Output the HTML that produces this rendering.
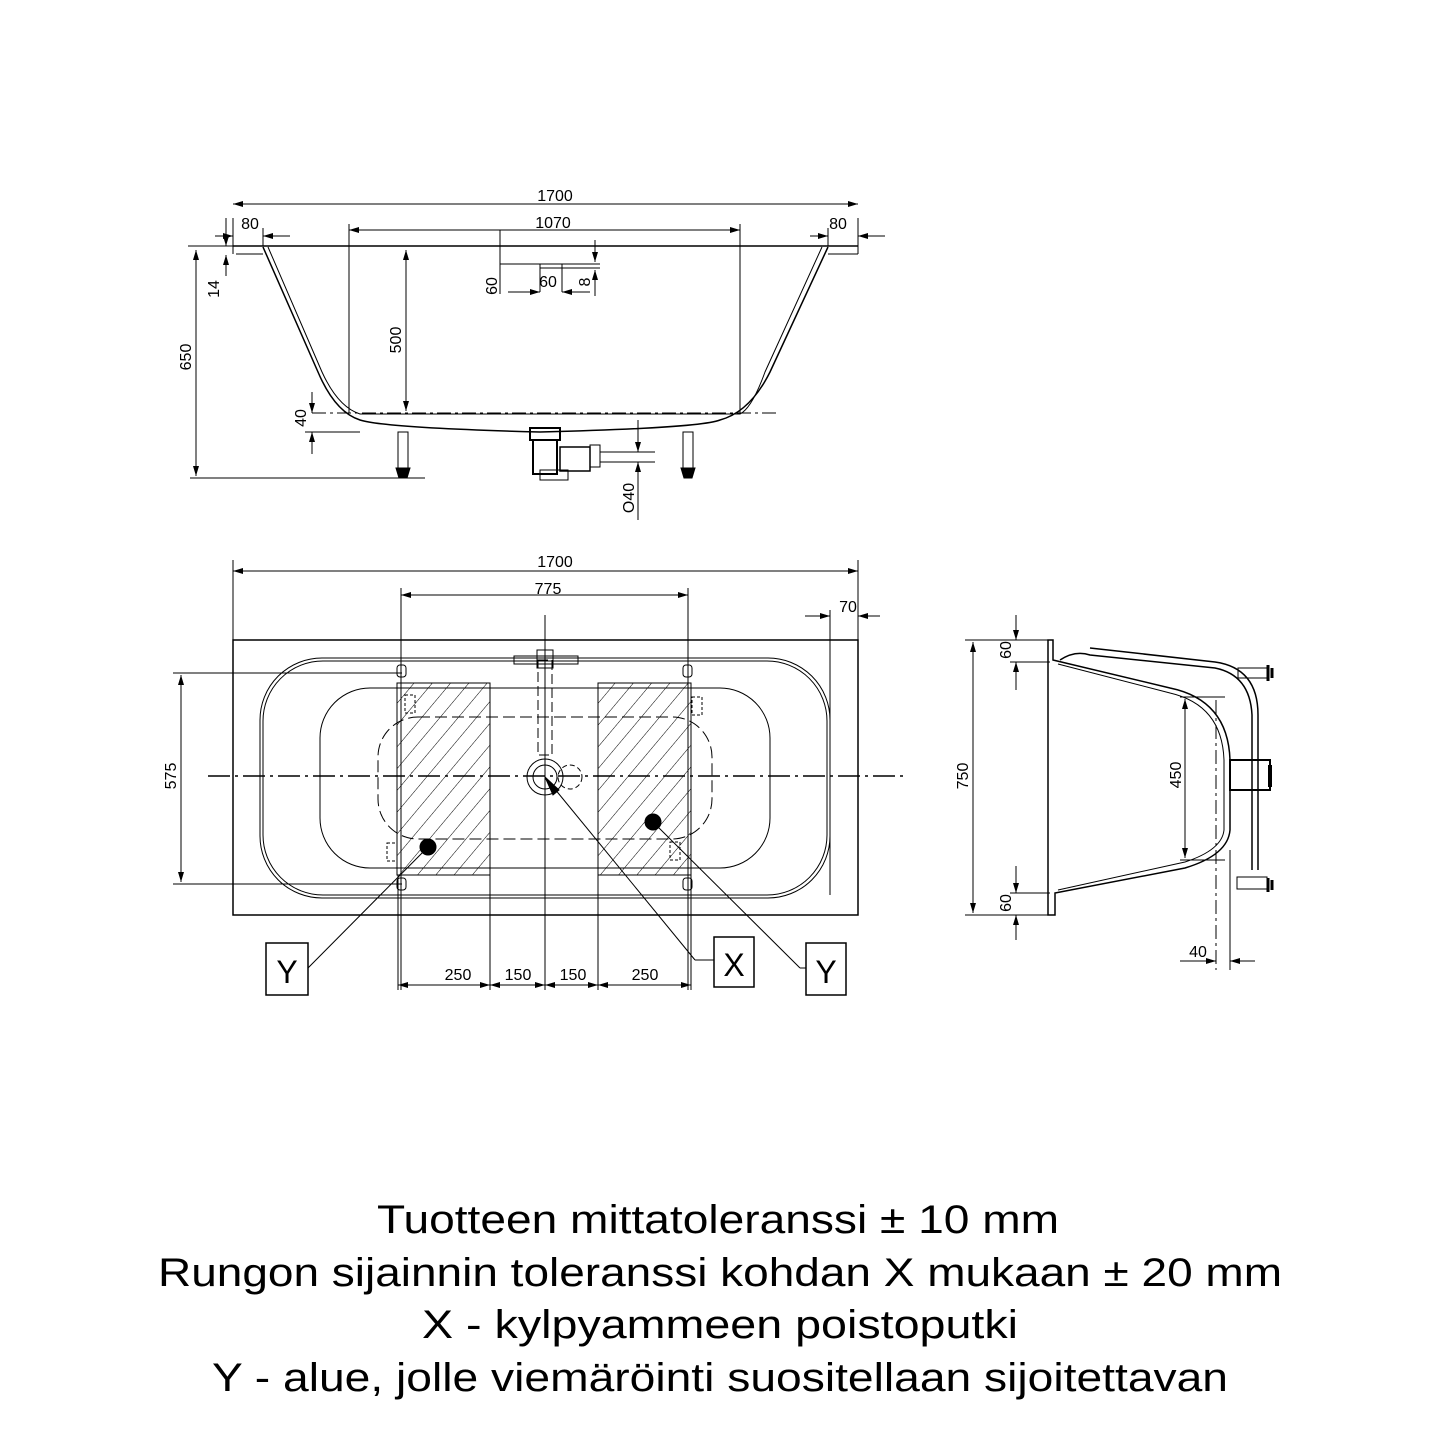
<!DOCTYPE html>
<html><head><meta charset="utf-8"><style>html,body{margin:0;padding:0;background:#fff}svg{display:block}</style></head>
<body>
<svg width="1440" height="1440" viewBox="0 0 1440 1440" xmlns="http://www.w3.org/2000/svg" font-family="Liberation Sans, sans-serif">
<defs>
<marker id="a" viewBox="0 0 10 6" refX="10" refY="3" markerWidth="10" markerHeight="6" orient="auto-start-reverse" markerUnits="userSpaceOnUse"><path d="M0,0L10,3L0,6z" fill="#000"/></marker>
<pattern id="h" width="14" height="14" patternUnits="userSpaceOnUse" patternTransform="rotate(40)"><line x1="0" y1="0" x2="0" y2="14" stroke="#000" stroke-width="1"/></pattern>
</defs>
<g stroke="#000" fill="none" stroke-width="1">
<!-- TOP VIEW -->
<line x1="233" y1="246" x2="858" y2="246" stroke-width="1.5"/>
<line x1="233" y1="218" x2="233" y2="246"/><line x1="858" y1="218" x2="858" y2="246"/>
<line x1="233" y1="204" x2="858" y2="204" marker-start="url(#a)" marker-end="url(#a)"/>
<line x1="349" y1="230" x2="740" y2="230" marker-start="url(#a)" marker-end="url(#a)"/>
<line x1="349" y1="224" x2="349" y2="413"/><line x1="740" y1="224" x2="740" y2="413"/>
<line x1="215" y1="236" x2="233" y2="236" marker-end="url(#a)"/><line x1="290" y1="236" x2="263" y2="236" marker-end="url(#a)"/>
<line x1="263" y1="228" x2="263" y2="246"/><line x1="828" y1="228" x2="828" y2="246"/>
<line x1="810" y1="236" x2="828" y2="236" marker-end="url(#a)"/><line x1="885" y1="236" x2="858" y2="236" marker-end="url(#a)"/>
<path d="M263,247 L318,372 Q335,412 360,420 Q385,428 540,432 Q700,428 720,420 Q750,412 770,372 L828,247" stroke-width="1.5"/>
<path d="M268,247 L322,372 Q338,407 360,414 L740,414 Q752,408 765,372 L822,247"/>
<line x1="236" y1="254" x2="263" y2="254"/><line x1="828" y1="254" x2="858" y2="254"/>
<line x1="233" y1="246" x2="233" y2="254"/><line x1="858" y1="246" x2="858" y2="254"/>
<line x1="312" y1="413" x2="780" y2="413" stroke-dasharray="14,4,3,4"/>
<line x1="190" y1="478" x2="425" y2="478"/><line x1="188" y1="246" x2="233" y2="246"/>
<line x1="196" y1="250" x2="196" y2="476" marker-start="url(#a)" marker-end="url(#a)"/>
<line x1="406" y1="250" x2="406" y2="411" marker-start="url(#a)" marker-end="url(#a)"/>
<line x1="226" y1="218" x2="226" y2="246" marker-end="url(#a)"/><line x1="226" y1="276" x2="226" y2="255" marker-end="url(#a)"/>
<line x1="312" y1="392" x2="312" y2="413" marker-end="url(#a)"/><line x1="312" y1="454" x2="312" y2="432" marker-end="url(#a)"/>
<line x1="305" y1="432" x2="360" y2="432"/>
<line x1="500" y1="264" x2="600" y2="264"/><line x1="540" y1="268" x2="600" y2="268"/><line x1="540" y1="264" x2="540" y2="292"/><line x1="562" y1="264" x2="562" y2="292"/>
<line x1="500" y1="230" x2="500" y2="294"/><line x1="595" y1="240" x2="595" y2="262" marker-end="url(#a)"/><line x1="595" y1="296" x2="595" y2="270" marker-end="url(#a)"/>
<line x1="508" y1="292" x2="540" y2="292" marker-end="url(#a)"/><line x1="590" y1="292" x2="562" y2="292" marker-end="url(#a)"/>
<rect x="398" y="432" width="10" height="36"/><rect x="683" y="432" width="10" height="36"/>
<path d="M396,468h14l-3,10h-8z M681,468h14l-3,10h-8z" fill="#000"/>
<rect x="530" y="428" width="30" height="12" stroke-width="2"/><rect x="533" y="440" width="24" height="34" stroke-width="2"/>
<rect x="540" y="470" width="28" height="10"/><rect x="560" y="447" width="30" height="24" stroke-width="1.5"/><rect x="590" y="445" width="10" height="22"/>
<line x1="600" y1="452" x2="655" y2="452"/><line x1="600" y1="462" x2="655" y2="462"/>
<line x1="638" y1="420" x2="638" y2="452" marker-end="url(#a)"/><line x1="638" y1="520" x2="638" y2="462" marker-end="url(#a)"/>
<!-- PLAN VIEW -->
<line x1="233" y1="571" x2="858" y2="571" marker-start="url(#a)" marker-end="url(#a)"/>
<line x1="233" y1="560" x2="233" y2="640"/><line x1="858" y1="560" x2="858" y2="640"/>
<line x1="401" y1="595" x2="688" y2="595" marker-start="url(#a)" marker-end="url(#a)"/>
<line x1="401" y1="588" x2="401" y2="990"/><line x1="688" y1="588" x2="688" y2="990"/>
<line x1="805" y1="616" x2="830" y2="616" marker-end="url(#a)"/><line x1="880" y1="616" x2="858" y2="616" marker-end="url(#a)"/>
<line x1="830" y1="610" x2="830" y2="895"/>
<rect x="233" y="640" width="625" height="275" stroke-width="1.5"/>
<rect x="260" y="658" width="570" height="240" rx="62"/><rect x="263" y="661" width="564" height="234" rx="60"/>
<rect x="320" y="688" width="450" height="180" rx="50"/>
<rect x="378" y="717" width="334" height="122" rx="40" stroke-dasharray="12,5"/>
<rect x="397" y="683" width="93" height="192" fill="url(#h)"/><rect x="598" y="683" width="93" height="192" fill="url(#h)"/>
<line x1="208" y1="776" x2="903" y2="776" stroke-dasharray="22,5,3,5" stroke-width="1.5"/>
<line x1="545" y1="615" x2="545" y2="990"/>
<rect x="538" y="660" width="14" height="95" stroke-dasharray="10,4"/>
<rect x="514" y="656" width="64" height="8"/><rect x="537" y="650" width="16" height="18"/>
<circle cx="545" cy="777" r="18"/><circle cx="545" cy="777" r="12"/><circle cx="570" cy="777" r="12" stroke-dasharray="5,3"/>
<line x1="598" y1="768" x2="598" y2="786" stroke-dasharray="4,2"/>
<rect x="405" y="695" width="10" height="18" stroke-dasharray="3,2"/><rect x="387" y="843" width="10" height="18" stroke-dasharray="3,2"/>
<rect x="692" y="697" width="10" height="18" stroke-dasharray="3,2"/><rect x="670" y="842" width="10" height="18" stroke-dasharray="3,2"/>
<rect x="397" y="665" width="9" height="12" rx="3"/><rect x="683" y="665" width="9" height="12" rx="3"/>
<rect x="397" y="878" width="9" height="12" rx="3"/><rect x="683" y="878" width="9" height="12" rx="3"/>
<line x1="173" y1="673" x2="402" y2="673"/><line x1="173" y1="884" x2="402" y2="884"/>
<line x1="181" y1="675" x2="181" y2="882" marker-start="url(#a)" marker-end="url(#a)"/>
<circle cx="428" cy="847" r="8" fill="#000"/><circle cx="653" cy="822" r="8" fill="#000"/>
<line x1="428" y1="847" x2="308" y2="968"/>
<line x1="545" y1="777" x2="695" y2="960"/><line x1="695" y1="960" x2="714" y2="960"/>
<path d="M545,777 l8,18 l6,-5z" fill="#000"/>
<line x1="653" y1="822" x2="800" y2="968"/><line x1="800" y1="968" x2="806" y2="968"/>
<rect x="266" y="943" width="42" height="52" stroke-width="1.5"/><rect x="714" y="937" width="40" height="50" stroke-width="1.5"/><rect x="806" y="943" width="40" height="52" stroke-width="1.5"/>
<line x1="490" y1="875" x2="490" y2="990"/><line x1="598" y1="875" x2="598" y2="990"/><line x1="398" y1="875" x2="398" y2="990"/><line x1="691" y1="875" x2="691" y2="990"/>
<line x1="398" y1="985" x2="490" y2="985" marker-start="url(#a)" marker-end="url(#a)"/>
<line x1="490" y1="985" x2="545" y2="985" marker-start="url(#a)" marker-end="url(#a)"/>
<line x1="545" y1="985" x2="598" y2="985" marker-start="url(#a)" marker-end="url(#a)"/>
<line x1="598" y1="985" x2="691" y2="985" marker-start="url(#a)" marker-end="url(#a)"/>
<!-- SIDE VIEW -->
<line x1="965" y1="640" x2="1053" y2="640"/><line x1="965" y1="915" x2="1053" y2="915"/>
<line x1="973" y1="642" x2="973" y2="913" marker-start="url(#a)" marker-end="url(#a)"/>
<line x1="1016" y1="615" x2="1016" y2="640" marker-end="url(#a)"/><line x1="1016" y1="690" x2="1016" y2="662" marker-end="url(#a)"/>
<line x1="1016" y1="866" x2="1016" y2="893" marker-end="url(#a)"/><line x1="1016" y1="940" x2="1016" y2="915" marker-end="url(#a)"/>
<line x1="1010" y1="662" x2="1050" y2="662"/><line x1="1010" y1="893" x2="1050" y2="893"/>
<path d="M1048,640 h5 v20 L1170,688 Q1228,700 1230,760 L1230,830 Q1228,855 1185,868 L1055,893 v22 h-7 z" stroke-width="1.5"/>
<path d="M1058,664 L1170,693 Q1222,705 1224,760 L1224,830 Q1222,850 1185,862 L1058,890"/>
<path d="M1060,660 Q1075,650 1090,655 L1215,668 Q1250,675 1252,715 L1252,870 M1090,648 L1215,662 Q1258,668 1258,715 L1258,870" stroke-width="1.5"/>
<rect x="1238" y="668" width="30" height="10"/><rect x="1237" y="877" width="30" height="12"/>
<path d="M1268,665v16 M1272,668v10 M1268,878v14 M1272,880v10" stroke-width="3"/>
<rect x="1230" y="760" width="40" height="30" stroke-width="2"/><path d="M1270,765v22" stroke-width="4"/>
<line x1="1180" y1="697" x2="1225" y2="697"/><line x1="1180" y1="860" x2="1225" y2="860"/>
<line x1="1185" y1="699" x2="1185" y2="858" marker-start="url(#a)" marker-end="url(#a)"/>
<line x1="1216" y1="700" x2="1216" y2="970" stroke-dasharray="14,4,3,4"/>
<line x1="1230" y1="850" x2="1230" y2="970"/>
<line x1="1180" y1="961" x2="1216" y2="961" marker-end="url(#a)"/><line x1="1255" y1="961" x2="1230" y2="961" marker-end="url(#a)"/>
</g>
<g font-size="16" fill="#000" text-anchor="middle">
<text x="555" y="201">1700</text><text x="553" y="228">1070</text>
<text x="250" y="229">80</text><text x="838" y="229">80</text>
<text x="548" y="287">60</text>
<text x="555" y="567">1700</text><text x="548" y="594">775</text><text x="848" y="612">70</text>
<text x="458" y="980">250</text><text x="518" y="980">150</text><text x="573" y="980">150</text><text x="645" y="980">250</text>
<text x="1198" y="957">40</text>
<text transform="translate(219,289) rotate(-90)">14</text>
<text transform="translate(191,357) rotate(-90)">650</text>
<text transform="translate(401,340) rotate(-90)">500</text>
<text transform="translate(306,418) rotate(-90)">40</text>
<text transform="translate(497,286) rotate(-90)">60</text>
<text transform="translate(590,282) rotate(-90)">8</text>
<text transform="translate(634,498) rotate(-90)">O40</text>
<text transform="translate(176,776) rotate(-90)">575</text>
<text transform="translate(968,776) rotate(-90)">750</text>
<text transform="translate(1011,650) rotate(-90)">60</text>
<text transform="translate(1011,903) rotate(-90)">60</text>
<text transform="translate(1181,775) rotate(-90)">450</text>
<text x="287" y="983" font-size="32">Y</text><text x="734" y="976" font-size="32">X</text><text x="826" y="983" font-size="32">Y</text>
</g>
<g font-size="40" fill="#000" text-anchor="middle">
<text x="718" y="1233" textLength="682" lengthAdjust="spacingAndGlyphs">Tuotteen mittatoleranssi ± 10 mm</text>
<text x="720" y="1286" textLength="1124" lengthAdjust="spacingAndGlyphs">Rungon sijainnin toleranssi kohdan X mukaan ± 20 mm</text>
<text x="720" y="1338" textLength="596" lengthAdjust="spacingAndGlyphs">X - kylpyammeen poistoputki</text>
<text x="720" y="1391" textLength="1016" lengthAdjust="spacingAndGlyphs">Y - alue, jolle viemäröinti suositellaan sijoitettavan</text>
</g>
</svg>
</body></html>
